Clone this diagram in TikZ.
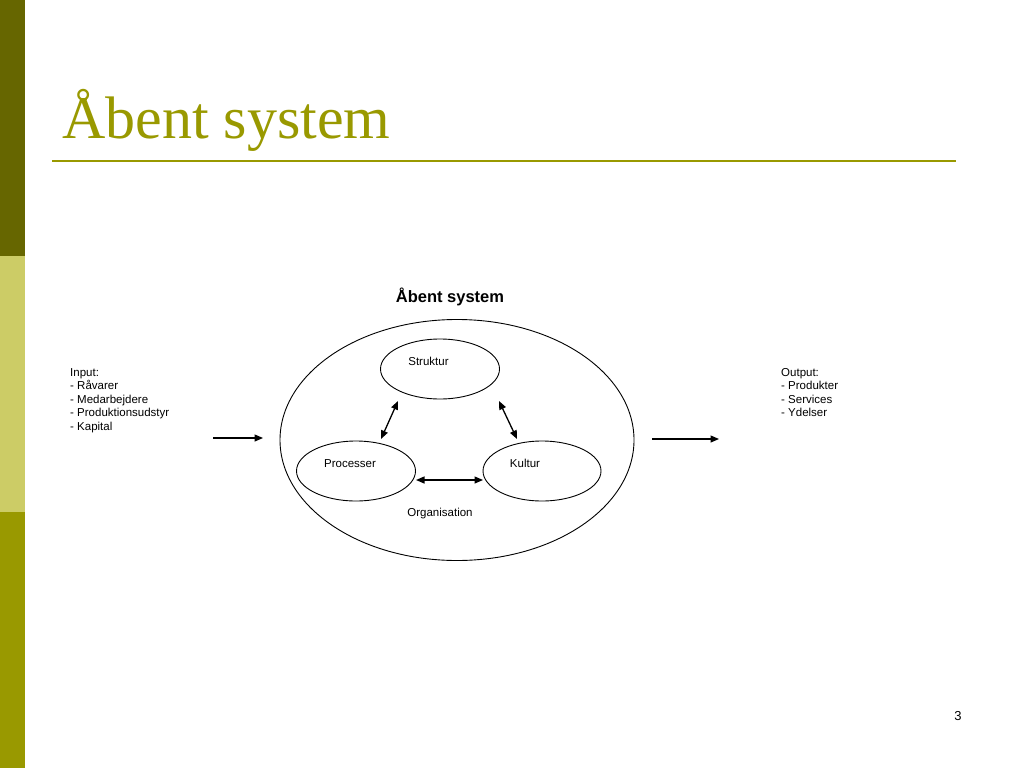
\documentclass[tikz,border=0pt]{standalone}
\usepackage{fontspec}
\setmainfont{Liberation Serif}
\newfontfamily\arial{Liberation Sans}
\usetikzlibrary{shapes.geometric,arrows.meta}
\definecolor{oliveA}{HTML}{666600}
\definecolor{oliveB}{HTML}{CCCC66}
\definecolor{oliveC}{HTML}{999900}
\begin{document}
\begin{tikzpicture}[x=1pt,y=-1pt,
  ell/.style={draw,ellipse,line width=0.9pt,inner sep=0},
  lbl/.style={font=\arial\fontsize{11.5}{13.5}\selectfont,inner sep=0},
  arr/.style={line width=1.3pt,-{Triangle[length=8.5pt,width=7pt]}},
  darr/.style={line width=1.3pt,{Triangle[length=8.5pt,width=7pt]}-{Triangle[length=8.5pt,width=7pt]}}]
\useasboundingbox (0,0) rectangle (1024,768);
\fill[white] (0,0) rectangle (1024,768);
\fill[oliveA] (0,0) rectangle (25,256);
\fill[oliveB] (0,256) rectangle (25,512);
\fill[oliveC] (0,512) rectangle (25,768);
% title
\node[anchor=base west,inner sep=0,text=oliveC,font=\fontsize{60}{60}\selectfont] (title) at (62,138) {Åbent system};
\draw[oliveC,line width=2pt] (52,161) -- (956,161);
% diagram title
\node[anchor=base,inner sep=0,font=\arial\bfseries\fontsize{16.5}{18}\selectfont] (dtitle) at (450,302) {Åbent system};
% ellipses
\node[ell,minimum width=354pt,minimum height=241pt] (big) at (457,440) {};
\node[ell,minimum width=119pt,minimum height=60pt] (struk) at (440,369) {};
\node[ell,minimum width=119pt,minimum height=60pt] (proc) at (356,471) {};
\node[ell,minimum width=118pt,minimum height=60pt] (kult) at (542,471) {};
% labels
\node[lbl,anchor=base] (lstruk) at (428.5,365) {Struktur};
\node[lbl,anchor=base] (lproc) at (350,467) {Processer};
\node[lbl,anchor=base] (lkult) at (525,467) {Kultur};
\node[lbl,anchor=base] (lorg) at (440,516) {Organisation};
% inner arrows
\coordinate (s1) at (398,401);
\coordinate (p1) at (381,439);
\coordinate (s2) at (499,401);
\coordinate (k1) at (517,439);
\coordinate (p2) at (416,480);
\coordinate (k2) at (483,480);
\draw[darr] (s1) -- (p1);
\draw[darr] (s2) -- (k1);
\draw[darr] (p2) -- (k2);
% input / output
\node[lbl,anchor=north west,align=left] (input) at (70,368) {Input:\\- Råvarer\\- Medarbejdere\\- Produktionsudstyr\\- Kapital};
\node[lbl,anchor=north west,align=left] (output) at (781,368) {Output:\\- Produkter\\- Services\\- Ydelser};
\coordinate (in1) at (213,438);
\coordinate (in2) at (263,438);
\coordinate (out1) at (652,439);
\coordinate (out2) at (719,439);
\draw[arr] (in1) -- (in2);
\draw[arr] (out1) -- (out2);
% page number
\node[anchor=base,inner sep=0,font=\arial\fontsize{13}{15}\selectfont] (pnum) at (958,720) {3};
\end{tikzpicture}
\end{document}
